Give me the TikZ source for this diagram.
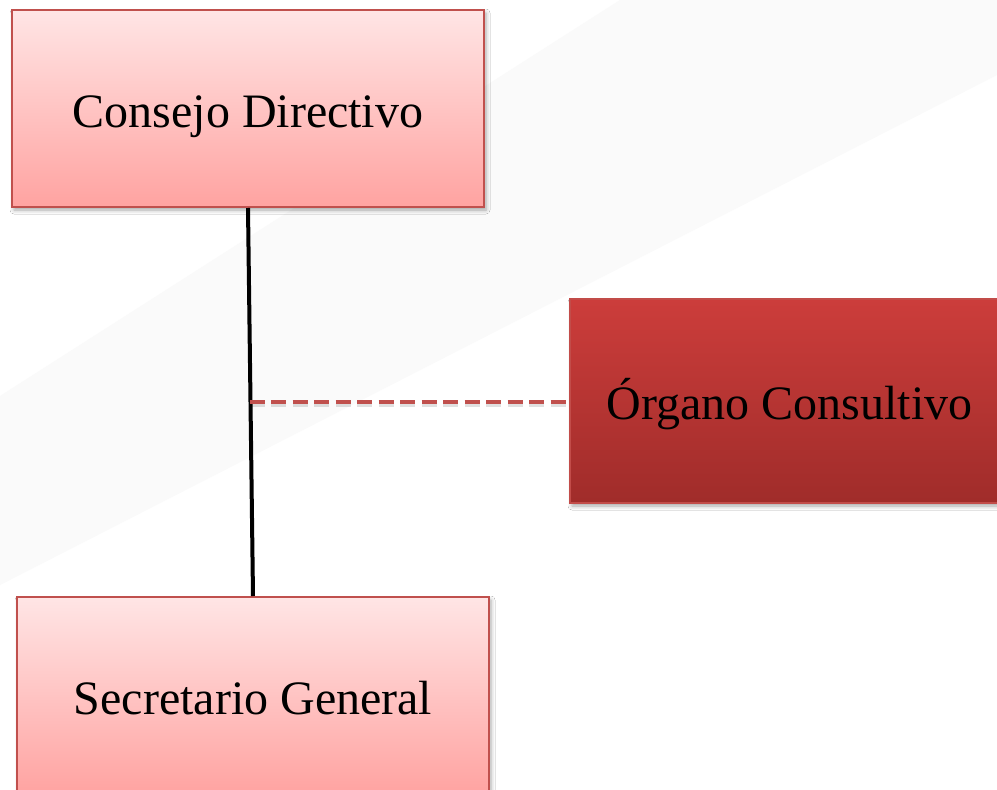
\documentclass[tikz,border=0pt]{standalone}
\usepackage{fontspec}
\setmainfont{Liberation Serif}
\usetikzlibrary{shadows.blur}
\definecolor{boxborder}{HTML}{C0504D}
\definecolor{pinktop}{HTML}{FFE5E5}
\definecolor{pinkbot}{HTML}{FFA3A1}
\definecolor{redtop}{HTML}{CC3D3B}
\definecolor{redbot}{HTML}{A02C2A}
\definecolor{bandgray}{HTML}{FAFAFA}
\tikzset{
  orgbox/.style={rectangle, draw=boxborder, line width=2pt, inner sep=0pt,
    text height=37pt, text depth=0pt,
    font=\fontsize{48}{58}\selectfont, text=black,
    blur shadow={shadow xshift=2pt, shadow yshift=-3pt, shadow blur radius=4pt, shadow opacity=35}},
  lightbox/.style={orgbox, top color=pinktop, bottom color=pinkbot},
  darkbox/.style={orgbox, top color=redtop, bottom color=redbot, draw=boxborder!80!redtop},
  solidlink/.style={draw=black, line width=4pt},
  dashlink/.style={draw=boxborder, line width=4.5pt, dash pattern=on 15pt off 6.5pt},
  dashshadow/.style={draw=black, opacity=0.12, line width=4.5pt, dash pattern=on 15pt off 6.5pt}
}
\begin{document}
\begin{tikzpicture}[x=1pt,y=-1pt]
\useasboundingbox (0,0) rectangle (997,790);
\clip (0,0) rectangle (997,790);
\fill[white] (0,0) rectangle (997,790);
\fill[bandgray] (620,0) -- (997,0) -- (997,75) -- (0,585) -- (0,396) -- cycle;
\node[lightbox, minimum width=472pt, minimum height=197pt] (c1) at (248,108.5) {Consejo Directivo};
\node[darkbox, minimum width=439pt, minimum height=204pt] (c2) at (789.5,401) {Órgano Consultivo};
\node[lightbox, minimum width=472pt, minimum height=197pt] (c3) at (253,695.5) {Secretario General};
\coordinate (j) at (249.5,402);
\coordinate (js) at (249.5,405);
\draw[dashshadow] (js) -- (c2.west |- js);
\draw[solidlink] (c1.south) -- (c3.north);
\draw[dashlink] (j) -- (c2.west |- j);
\end{tikzpicture}
\end{document}
